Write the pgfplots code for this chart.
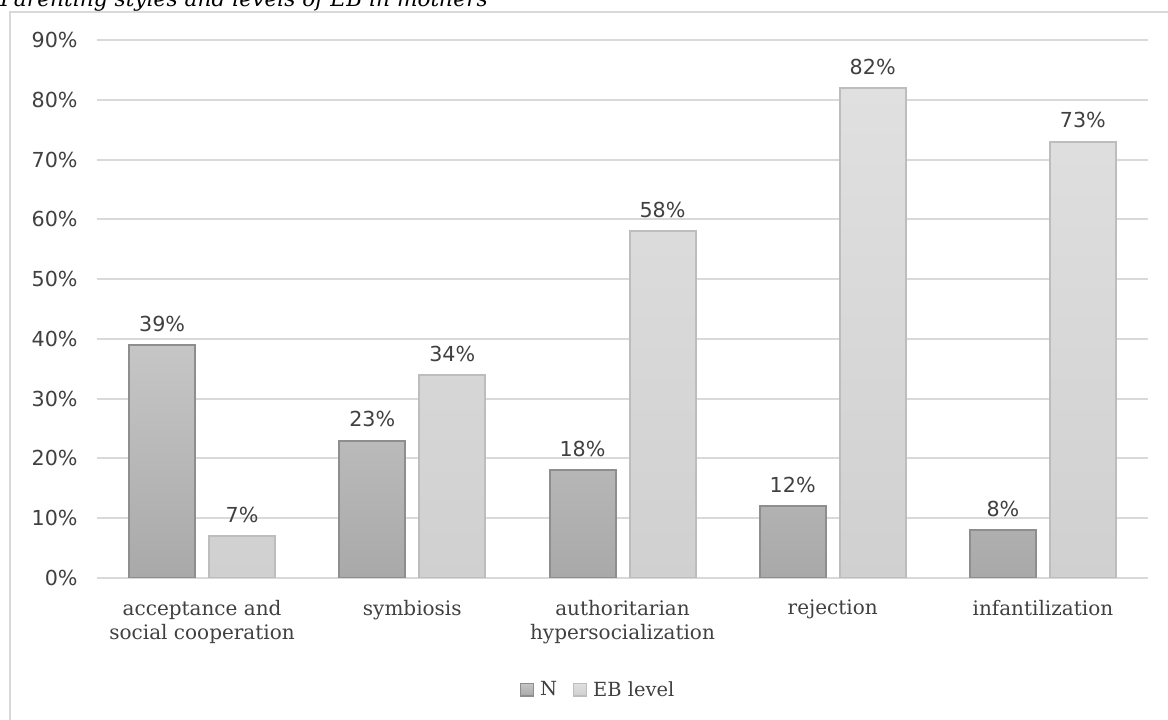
\documentclass[border=0pt]{standalone}
\usepackage{pgfplots}
\pgfplotsset{compat=1.18}
\usepackage{fontspec}
\setmainfont{DejaVu Serif}
\newfontfamily\sansf{DejaVu Sans}
\definecolor{gridc}{HTML}{D9D9D9}
\definecolor{txt}{HTML}{404040}
\definecolor{ntop}{HTML}{C6C6C6}
\definecolor{nbot}{HTML}{A9A9A9}
\definecolor{nedge}{HTML}{8E8E8E}
\definecolor{etop}{HTML}{E0E0E0}
\definecolor{ebot}{HTML}{D0D0D0}
\definecolor{eedge}{HTML}{BDBDBD}
\begin{document}
\begin{tikzpicture}
\useasboundingbox (0pt,0pt) rectangle (876pt,540pt);
\clip (0pt,0pt) rectangle (876pt,540pt);
\draw[gridc, line width=1.5pt] (7.5pt,-15pt) -- (7.5pt,531pt) -- (890pt,531pt);
\node[anchor=base west, inner sep=0pt, font=\fontsize{16.3}{19}\selectfont\itshape, text=black] at (0pt,535.1pt) {Parenting styles and levels of EB in mothers};
\begin{axis}[
  at={(72.75pt,106.5pt)}, anchor=south west,
  scale only axis, width=788.25pt, height=403.5pt,
  ymin=0, ymax=90, xmin=-0.5, xmax=4.5,
  ytick={0,10,20,30,40,50,60,70,80,90},
  yticklabel={\pgfmathprintnumber{\tick}\%},
  /pgf/number format/assume math mode=true,
  yticklabel style={font=\sansf\fontsize{15.5}{18}\selectfont, text=txt, xshift=-11pt},
  xtick={0,1,2,3,4},
  xticklabels={{acceptance and\\social cooperation},{symbiosis},{authoritarian\\hypersocialization},{rejection},{infantilization}},
  xticklabel style={align=center, font=\fontsize{15}{18.5}\selectfont, text=txt, yshift=-13pt},
  major tick length=0pt,
  ymajorgrids, grid style={gridc, line width=1.5pt},
  axis y line*=left, axis x line*=bottom,
  y axis line style={draw=none},
  x axis line style={gridc, line width=1.5pt, -},
  ybar, bar width=49.5pt,
  nodes near coords={\pgfmathprintnumber{\pgfplotspointmeta}\%},
  every node near coord/.append style={font=\sansf\fontsize{15.5}{18}\selectfont, text=txt, yshift=6pt},
  legend style={at={(0.4772,-0.208)}, anchor=center, draw=none, fill=none, legend columns=-1,
    font=\fontsize{14.6}{18}\selectfont, text=txt, column sep=0pt,
    /tikz/every odd column/.append style={column sep=2.5pt},
    /tikz/every even column/.append style={column sep=10pt}},
  legend image code/.code={\draw[#1, line width=1pt] (0pt,-4.5pt) rectangle (9.5pt,5pt);},
]
\addplot[bar shift=-30pt, top color=ntop, bottom color=nbot, draw=nedge, line width=1.5pt]
  coordinates {(0,39) (1,23) (2,18) (3,12) (4,8)};
\addplot[bar shift=30pt, top color=etop, bottom color=ebot, draw=eedge, line width=1.5pt]
  coordinates {(0,7) (1,34) (2,58) (3,82) (4,73)};
\legend{N, EB level}
\end{axis}
\end{tikzpicture}
\end{document}
